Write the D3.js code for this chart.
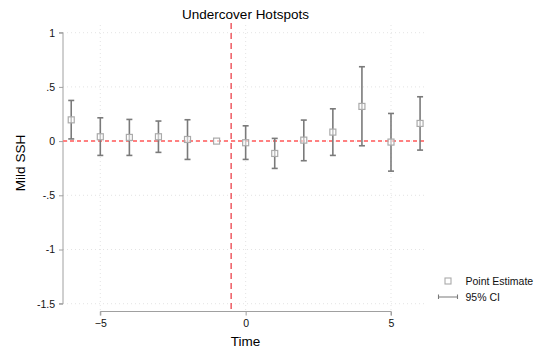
<!DOCTYPE html>
<html lang="en">
<head>
<meta charset="UTF-8">
<title>Undercover Hotspots</title>
<style>
  body { margin: 0; padding: 0; background: #fff; }
  svg { display: block; font-family: "Liberation Sans", Arial, sans-serif; }
</style>
</head>
<body>
<div id="chart"></div>
<script src="https://d3js.org/d3.v7.min.js"></script>
<script>
  // event time, point estimates and 95% CI bounds
  const periods = [-6, -5, -4, -3, -2, -1, 0, 1, 2, 3, 4, 5, 6];
  const estimates = [0.196, 0.040, 0.034, 0.040, 0.015, 0, -0.015, -0.114, 0.009, 0.083, 0.320, -0.009, 0.163];
  const ciLow = [0.020, -0.132, -0.132, -0.104, -0.169, null, -0.169, -0.252, -0.181, -0.132, -0.043, -0.277, -0.083];
  const ciHigh = [0.375, 0.215, 0.200, 0.185, 0.197, null, 0.141, 0.025, 0.194, 0.298, 0.686, 0.255, 0.409];
  const xTicks = [-5, 0, 5];
  const yTicks = [1, 0.5, 0, -0.5, -1, -1.5];
  const yTickLabels = ["1", ".5", "0", "-.5", "-1", "-1.5"];

  const data = periods.map((t, i) => ({ t, est: estimates[i], lo: ciLow[i], hi: ciHigh[i] }));

  const width = 537, height = 351;
  const svg = d3.select('#chart').append('svg')
    .attr('width', width).attr('height', height);

  const x = d3.scaleLinear().domain([-5, 5]).range([100.3, 391]);
  const y = d3.scaleLinear().domain([1, -1.5]).range([32.7, 303.7]);
  const plotLeft = 63, plotRight = 426;

  // grid
  svg.append('g').selectAll('line').data(yTicks).enter().append('line')
    .attr('x1', plotLeft).attr('x2', plotRight)
    .attr('y1', d => y(d)).attr('y2', d => y(d))
    .attr('stroke', '#dcdcdc').attr('stroke-width', 0.8).attr('stroke-dasharray', '1,3');
  svg.append('g').selectAll('line').data(xTicks).enter().append('line')
    .attr('x1', d => x(d)).attr('x2', d => x(d))
    .attr('y1', 25).attr('y2', 311)
    .attr('stroke', '#dcdcdc').attr('stroke-width', 0.8).attr('stroke-dasharray', '1,3');

  // y axis
  const yAxis = svg.append('g')
    .attr('transform', `translate(${plotLeft},0)`)
    .call(d3.axisLeft(y).tickValues(yTicks).tickSize(4).tickPadding(4)
      .tickFormat((d, i) => yTickLabels[i]));
  yAxis.select('.domain').attr('stroke', '#a0a0a0').attr('d', `M-4,${y(1)}H0V${y(-1.5)}H-4`);
  yAxis.selectAll('.tick line').attr('stroke', '#a0a0a0');
  yAxis.selectAll('text').attr('font-size', 10.5).attr('fill', '#111')
    .attr('font-family', '"Liberation Sans", Arial, sans-serif');

  // x axis
  const xAxis = svg.append('g')
    .attr('transform', `translate(0,311.5)`)
    .call(d3.axisBottom(x).tickValues(xTicks).tickSize(4).tickPadding(4)
      .tickFormat(d3.format('d')));
  xAxis.select('.domain').attr('stroke', '#a0a0a0').attr('d', `M${x(-5)},4V0H${x(5)}V4`);
  xAxis.selectAll('.tick line').attr('stroke', '#a0a0a0');
  xAxis.selectAll('text').attr('font-size', 10.5).attr('fill', '#111')
    .attr('font-family', '"Liberation Sans", Arial, sans-serif');

  // reference lines
  svg.append('line')
    .attr('x1', plotLeft).attr('x2', plotRight)
    .attr('y1', y(0)).attr('y2', y(0))
    .attr('stroke', '#ff8080').attr('stroke-width', 2).attr('stroke-dasharray', '4,3');
  svg.append('line')
    .attr('x1', x(-0.5)).attr('x2', x(-0.5))
    .attr('y1', 23).attr('y2', 311)
    .attr('stroke', '#e8202a').attr('stroke-width', 1.1).attr('stroke-dasharray', '6,4');

  // confidence intervals
  const ci = data.filter(d => d.lo !== null);
  const cap = 3;
  const bars = svg.append('g').attr('stroke', '#7a7a7a').attr('stroke-width', 1.6);
  bars.selectAll('.stem').data(ci).enter().append('line')
    .attr('x1', d => x(d.t)).attr('x2', d => x(d.t))
    .attr('y1', d => y(d.lo)).attr('y2', d => y(d.hi));
  bars.selectAll('.capTop').data(ci).enter().append('line')
    .attr('x1', d => x(d.t) - cap).attr('x2', d => x(d.t) + cap)
    .attr('y1', d => y(d.hi)).attr('y2', d => y(d.hi));
  bars.selectAll('.capBot').data(ci).enter().append('line')
    .attr('x1', d => x(d.t) - cap).attr('x2', d => x(d.t) + cap)
    .attr('y1', d => y(d.lo)).attr('y2', d => y(d.lo));

  // point estimates
  const s = 6;
  svg.append('g').selectAll('rect').data(data).enter().append('rect')
    .attr('x', d => x(d.t) - s / 2).attr('y', d => y(d.est) - s / 2)
    .attr('width', s).attr('height', s)
    .attr('fill', 'rgba(255,255,255,0.55)').attr('stroke', '#aaaaaa').attr('stroke-width', 1.2);

  // title and axis labels
  svg.append('text').attr('x', 245.5).attr('y', 18.5).attr('text-anchor', 'middle')
    .attr('font-size', 13.5).attr('fill', '#000').text('Undercover Hotspots');
  svg.append('text').attr('transform', 'translate(25,163) rotate(-90)').attr('text-anchor', 'middle')
    .attr('font-size', 13.5).attr('fill', '#000').text('Mild SSH');
  svg.append('text').attr('x', 245.5).attr('y', 346).attr('text-anchor', 'middle')
    .attr('font-size', 13.5).attr('fill', '#000').text('Time');

  // legend
  const lg = svg.append('g');
  lg.append('rect').attr('x', 445).attr('y', 278).attr('width', 6).attr('height', 6)
    .attr('fill', 'none').attr('stroke', '#aaaaaa').attr('stroke-width', 1.1);
  lg.append('text').attr('x', 465.5).attr('y', 285).attr('font-size', 10.5).attr('fill', '#111').text('Point Estimate');
  lg.append('path').attr('d', 'M438.5,294.5V299M438.5,297H457.5M457.5,294.5V299')
    .attr('fill', 'none').attr('stroke', '#7a7a7a').attr('stroke-width', 1.1);
  lg.append('text').attr('x', 465.5).attr('y', 301).attr('font-size', 10.5).attr('fill', '#111').text('95% CI');
</script>
</body>
</html>
